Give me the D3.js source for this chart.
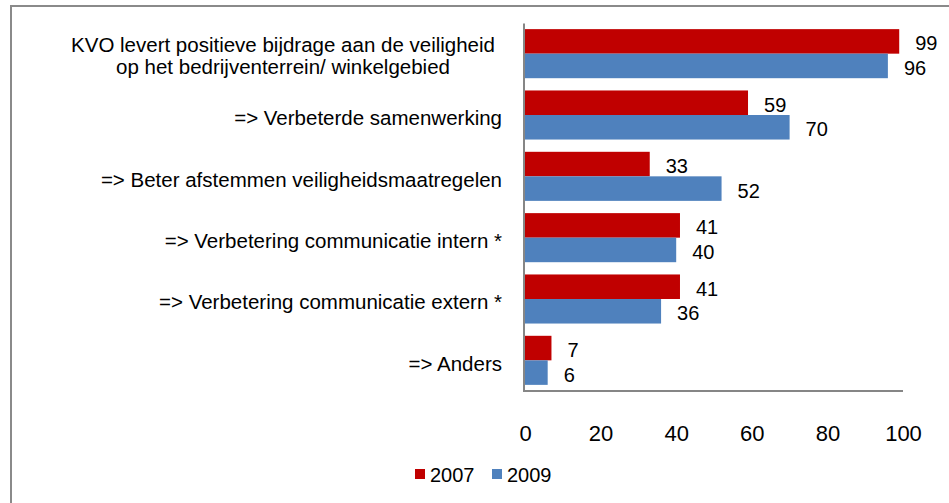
<!DOCTYPE html>
<html>
<head>
<meta charset="utf-8">
<script src="https://cdn.jsdelivr.net/npm/d3@7"></script>
<style>
  body { margin: 0; background: #fff; }
  svg { display: block; }
  text { font-family: 'Liberation Sans', Arial, sans-serif; fill: #000; }
</style>
</head>
<body>
<div id="wrapper"></div>
<script>
// Data
const categories = [
  ['KVO levert positieve bijdrage aan de veiligheid', 'op het bedrijventerrein/ winkelgebied'],
  ['=> Verbeterde samenwerking'],
  ['=> Beter afstemmen veiligheidsmaatregelen'],
  ['=> Verbetering communicatie intern *'],
  ['=> Verbetering communicatie extern  *'],
  ['=> Anders'],
];
const seriesNames = ['2007', '2009'];
const values2007 = [99, 59, 33, 41, 41, 7];
const values2009 = [96, 70, 52, 40, 36, 6];
const xTicks = [0, 20, 40, 60, 80, 100];
const colors = ['#C00000', '#4F81BD'];

const dataset = categories.map((c, i) => ({
  lines: c,
  values: [values2007[i], values2009[i]],
}));

// Dimensions
const dimensions = {
  width: 949,
  height: 503,
  plotLeft: 524,
  plotRight: 903,
  plotTop: 23,
  plotBottom: 391,
};

// Scales
const xScale = d3
  .scaleLinear()
  .domain([0, 100])
  .range([dimensions.plotLeft + 1, dimensions.plotRight]);

const yScale = d3
  .scaleBand()
  .domain(d3.range(categories.length))
  .range([dimensions.plotTop, dimensions.plotBottom])
  .paddingInner(0.2)
  .paddingOuter(0.1);

const subScale = d3
  .scaleBand()
  .domain(d3.range(seriesNames.length))
  .range([0, yScale.bandwidth()]);

// Canvas
const svg = d3
  .select('#wrapper')
  .append('svg')
  .attr('width', dimensions.width)
  .attr('height', dimensions.height);

// chart frame (runs off right and bottom)
svg
  .append('rect')
  .attr('x', 11)
  .attr('y', 6)
  .attr('width', 1000)
  .attr('height', 600)
  .attr('fill', 'none')
  .attr('stroke', '#8a8a8a')
  .attr('stroke-width', 2);

// Bars
const groups = svg
  .selectAll('.group')
  .data(dataset)
  .enter()
  .append('g')
  .attr('class', 'group')
  .attr('transform', (d, i) => `translate(0, ${yScale(i)})`);

groups
  .selectAll('rect')
  .data((d) => d.values)
  .enter()
  .append('rect')
  .attr('x', xScale(0))
  .attr('y', (d, j) => subScale(j))
  .attr('width', (d) => xScale(d) - xScale(0))
  .attr('height', subScale.bandwidth())
  .attr('fill', (d, j) => colors[j]);

// Value labels
groups
  .selectAll('.value')
  .data((d) => d.values)
  .enter()
  .append('text')
  .attr('class', 'value')
  .attr('x', (d) => xScale(d) + 16)
  .attr('y', (d, j) => subScale(j) + subScale.bandwidth() / 2 + 2)
  .attr('dominant-baseline', 'central')
  .style('font-size', '20px')
  .text((d) => d);

// Category labels
groups.each(function (d) {
  const g = d3.select(this);
  const mid = yScale.bandwidth() / 2;
  if (d.lines.length > 1) {
    const lh = 21.5;
    d.lines.forEach((line, k) => {
      g.append('text')
        .attr('x', 283)
        .attr('y', mid + (k - (d.lines.length - 1) / 2) * lh + 2)
        .attr('text-anchor', 'middle')
        .attr('dominant-baseline', 'central')
        .style('font-size', '20.5px')
        .text(line);
    });
  } else {
    g.append('text')
      .attr('x', 502)
      .attr('y', mid + 3)
      .attr('text-anchor', 'end')
      .attr('dominant-baseline', 'central')
      .style('font-size', '20.5px')
      .text(d.lines[0]);
  }
});

// Axes
const xAxis = d3
  .axisBottom(xScale)
  .tickValues(xTicks)
  .tickSize(0)
  .tickPadding(34)
  .tickFormat(d3.format('d'));

svg
  .append('g')
  .attr('id', 'x-axis')
  .attr('transform', `translate(0, ${dimensions.plotBottom})`)
  .call(xAxis)
  .call((g) => g.select('.domain').remove())
  .call((g) =>
    g.selectAll('text').style('font-size', '22px').attr('fill', '#000')
  );

svg
  .append('line')
  .attr('x1', dimensions.plotLeft - 1)
  .attr('x2', dimensions.plotRight)
  .attr('y1', dimensions.plotBottom)
  .attr('y2', dimensions.plotBottom)
  .attr('stroke', '#868686')
  .attr('stroke-width', 2);

const yAxis = d3.axisLeft(yScale).tickValues([]).tickSizeOuter(0);
svg
  .append('g')
  .attr('id', 'y-axis')
  .attr('transform', `translate(${dimensions.plotLeft - 0.5}, 0)`)
  .call(yAxis)
  .call((g) =>
    g.select('.domain').attr('stroke', '#868686').attr('stroke-width', 2)
  );

// Legend
const legendX = [415, 492];
const legend = svg
  .selectAll('.legend')
  .data(seriesNames)
  .enter()
  .append('g')
  .attr('class', 'legend')
  .attr('transform', (d, i) => `translate(${legendX[i]}, 474)`);

legend
  .append('rect')
  .attr('x', 0)
  .attr('y', -5)
  .attr('width', 10)
  .attr('height', 10)
  .attr('fill', (d, i) => colors[i]);

legend
  .append('text')
  .attr('x', 15)
  .attr('y', 1)
  .attr('dominant-baseline', 'central')
  .style('font-size', '20px')
  .text((d) => d);
</script>
</body>
</html>
